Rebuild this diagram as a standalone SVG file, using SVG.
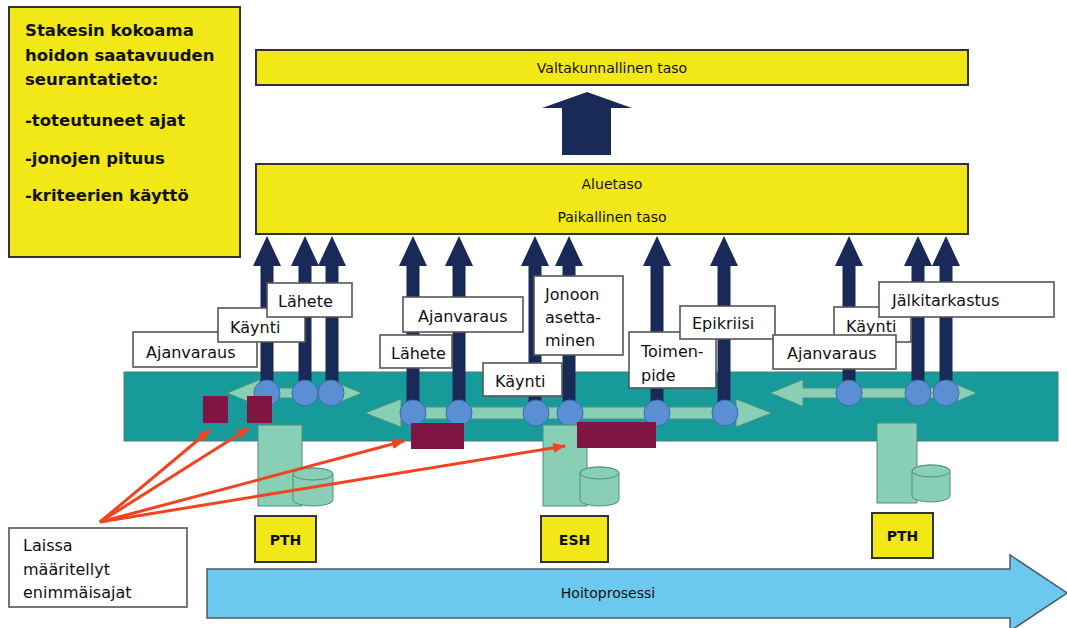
<svg xmlns="http://www.w3.org/2000/svg" width="1067" height="628" viewBox="0 0 1067 628">
<defs>
<style>
.ybox{fill:#F2E717;stroke:#333;stroke-width:2}
.lbl{fill:#fff;stroke:#555;stroke-width:1.6}
.t{font-family:"DejaVu Sans",sans-serif;font-size:16px;fill:#111}
.tc{font-family:"DejaVu Sans",sans-serif;font-size:14px;fill:#111;text-anchor:middle}
.tb{font-family:"DejaVu Sans",sans-serif;font-size:16.5px;font-weight:bold;fill:#111}
.navy{fill:#1A2A58}
.green{fill:#88CFB6;stroke:#4f8f7a;stroke-width:1}
.circ{fill:#5A8FD4;stroke:#3C6BAA;stroke-width:1}
.maroon{fill:#7E1545}
.red{stroke:#F2431F;stroke-width:3;fill:none;marker-end:url(#rh)}
</style>
<marker id="rh" markerUnits="userSpaceOnUse" markerWidth="13" markerHeight="11" refX="12" refY="5" orient="auto">
<path d="M0,0 L13,5 L0,10 z" fill="#F2431F"/>
</marker>
</defs>
<rect width="1067" height="628" fill="#fff"/>

<g id="info">
<rect class="ybox" x="9" y="7" width="231" height="250"/>
<text class="tb" x="25" y="36">Stakesin kokoama</text>
<text class="tb" x="25" y="61">hoidon saatavuuden</text>
<text class="tb" x="25" y="85">seurantatieto:</text>
<text class="tb" x="25" y="126">-toteutuneet ajat</text>
<text class="tb" x="25" y="164">-jonojen pituus</text>
<text class="tb" x="25" y="201">-kriteerien käyttö</text>
</g>

<g id="valtakunnallinen">
<rect class="ybox" x="256" y="50" width="712" height="35"/>
<text class="tc" x="612" y="73">Valtakunnallinen taso</text>
</g>

<g id="alue">
<rect class="ybox" x="256" y="164" width="712" height="70"/>
<text class="tc" x="612" y="189">Aluetaso</text>
<text class="tc" x="612" y="222">Paikallinen taso</text>
</g>

<g id="band">
<rect x="124" y="372" width="934" height="69" fill="#179B9A" stroke="#4a7d7d" stroke-width="1"/>
</g>

<g id="connectors">
<path class="navy" d="M562 155 V108 H542 L587 92 L632 108 H611 V155 Z"/>
<path class="green" d="M227 393 L260 379.5 V388 H329 V379.5 L362 393 L329 406.5 V398 H260 V406.5 Z"/>
<path class="green" d="M365 413 L401 399 V407 H736 V399 L772 413 L736 427 V419 H401 V427 Z"/>
<path class="green" d="M770 393 L803 379.5 V388 H944 V379.5 L977 393 L944 406.5 V398 H803 V406.5 Z"/>
<path class="navy" d="M260.5 382 V266 H253 L267 236 L281 266 H273.5 V382 Z"/>
<path class="navy" d="M298.5 382 V266 H291 L305 236 L319 266 H311.5 V382 Z"/>
<path class="navy" d="M325.5 382 V266 H318 L332 236 L346 266 H338.5 V382 Z"/>
<path class="navy" d="M406.5 402 V266 H399 L413 236 L427 266 H419.5 V402 Z"/>
<path class="navy" d="M452.5 402 V266 H445 L459 236 L473 266 H465.5 V402 Z"/>
<path class="navy" d="M528.5 402 V266 H521 L535 236 L549 266 H541.5 V402 Z"/>
<path class="navy" d="M562.5 402 V266 H555 L569 236 L583 266 H575.5 V402 Z"/>
<path class="navy" d="M650.5 402 V266 H643 L657 236 L671 266 H663.5 V402 Z"/>
<path class="navy" d="M717.5 402 V266 H710 L724 236 L738 266 H730.5 V402 Z"/>
<path class="navy" d="M842.5 382 V266 H835 L849 236 L863 266 H855.5 V382 Z"/>
<path class="navy" d="M911.5 382 V266 H904 L918 236 L932 266 H924.5 V382 Z"/>
<path class="navy" d="M939.5 382 V266 H932 L946 236 L960 266 H952.5 V382 Z"/>
<circle class="circ" cx="267" cy="393" r="13"/>
<circle class="circ" cx="305" cy="393" r="13"/>
<circle class="circ" cx="331" cy="393" r="13"/>
<circle class="circ" cx="413" cy="413" r="13"/>
<circle class="circ" cx="459" cy="413" r="13"/>
<circle class="circ" cx="536" cy="413" r="13"/>
<circle class="circ" cx="570" cy="413" r="13"/>
<circle class="circ" cx="657" cy="413" r="13"/>
<circle class="circ" cx="725" cy="413" r="13"/>
<circle class="circ" cx="849" cy="393" r="13"/>
<circle class="circ" cx="918" cy="393" r="13"/>
<circle class="circ" cx="946" cy="393" r="13"/>
</g>

<g id="labels-left">
<rect class="lbl" x="133" y="332" width="124" height="35"/>
<text class="t" x="146" y="358">Ajanvaraus</text>
<rect class="lbl" x="218" y="308" width="87" height="34"/>
<text class="t" x="230" y="333">Käynti</text>
<rect class="lbl" x="267" y="283" width="85" height="34"/>
<text class="t" x="278" y="307">Lähete</text>
</g>

<g id="labels-mid">
<rect class="lbl" x="403" y="297" width="120" height="35"/>
<text class="t" x="418" y="322">Ajanvaraus</text>
<rect class="lbl" x="380" y="335" width="72" height="33"/>
<text class="t" x="391" y="359">Lähete</text>
<rect class="lbl" x="483" y="363" width="79" height="33"/>
<text class="t" x="495" y="387">Käynti</text>
<rect class="lbl" x="534" y="276" width="89" height="79"/>
<text class="t" x="545" y="300">Jonoon</text>
<text class="t" x="545" y="323">asetta-</text>
<text class="t" x="545" y="346">minen</text>
<rect class="lbl" x="629" y="332" width="87" height="56"/>
<text class="t" x="641" y="357">Toimen-</text>
<text class="t" x="641" y="381">pide</text>
<rect class="lbl" x="680" y="306" width="95" height="33"/>
<text class="t" x="692" y="329">Epikriisi</text>
</g>

<g id="labels-right">
<rect class="lbl" x="834" y="307" width="77" height="35"/>
<text class="t" x="846" y="332">Käynti</text>
<rect class="lbl" x="773" y="335" width="123" height="34"/>
<text class="t" x="787" y="359">Ajanvaraus</text>
<rect class="lbl" x="879" y="282" width="175" height="35"/>
<text class="t" x="892" y="306">Jälkitarkastus</text>
</g>

<g id="systems">
<rect class="green" x="258" y="425" width="44" height="81"/>
<path class="green" d="M293 474 V500 A20 6 0 0 0 333 500 V474 A20 6 0 0 0 293 474 Z"/>
<ellipse class="green" cx="313" cy="474" rx="20" ry="6"/>
<rect class="green" x="543" y="425" width="44" height="81"/>
<path class="green" d="M580 473 V500 A19.5 6 0 0 0 619 500 V473 A19.5 6 0 0 0 580 473 Z"/>
<ellipse class="green" cx="599.5" cy="473" rx="19.5" ry="6"/>
<rect class="green" x="877" y="423" width="40" height="80"/>
<path class="green" d="M912 471 V496 A19 6 0 0 0 950 496 V471 A19 6 0 0 0 912 471 Z"/>
<ellipse class="green" cx="931" cy="471" rx="19" ry="6"/>
<rect class="maroon" x="203" y="396" width="25" height="27"/>
<rect class="maroon" x="247" y="396" width="25" height="27"/>
<rect class="maroon" x="411" y="423" width="53" height="26"/>
<rect class="maroon" x="577" y="422" width="79" height="26"/>
</g>

<g id="pth1">
<rect class="ybox" x="255" y="516" width="61" height="46" stroke-width="1.5"/>
<text class="tc" x="285.5" y="545" font-weight="bold" font-size="15">PTH</text>
</g>
<g id="esh">
<rect class="ybox" x="541" y="516" width="67" height="46" stroke-width="1.5"/>
<text class="tc" x="574.5" y="545" font-weight="bold" font-size="15">ESH</text>
</g>
<g id="pth2">
<rect class="ybox" x="872" y="513" width="61" height="45" stroke-width="1.5"/>
<text class="tc" x="902.5" y="541" font-weight="bold" font-size="15">PTH</text>
</g>

<g id="laki">
<rect x="9" y="528" width="178" height="79" fill="#fff" stroke="#555" stroke-width="1.6"/>
<text class="t" x="23" y="551" font-size="15">Laissa</text>
<text class="t" x="23" y="575" font-size="15">määritellyt</text>
<text class="t" x="23" y="598" font-size="15">enimmäisajat</text>
</g>

<g id="red-connectors">
<line class="red" x1="100" y1="522" x2="210" y2="430"/>
<line class="red" x1="100" y1="522" x2="249" y2="428"/>
<line class="red" x1="100" y1="522" x2="404" y2="441"/>
<line class="red" x1="100" y1="522" x2="565" y2="446"/>
</g>

<g id="hoitoprosessi">
<path d="M207 569 H1010 V555 L1067 593 L1010 631 V618 H207 Z" fill="#6DC8F0" stroke="#4d5a66" stroke-width="1.5"/>
<text class="tc" x="608" y="598" font-size="14.5">Hoitoprosessi</text>
</g>
</svg>
